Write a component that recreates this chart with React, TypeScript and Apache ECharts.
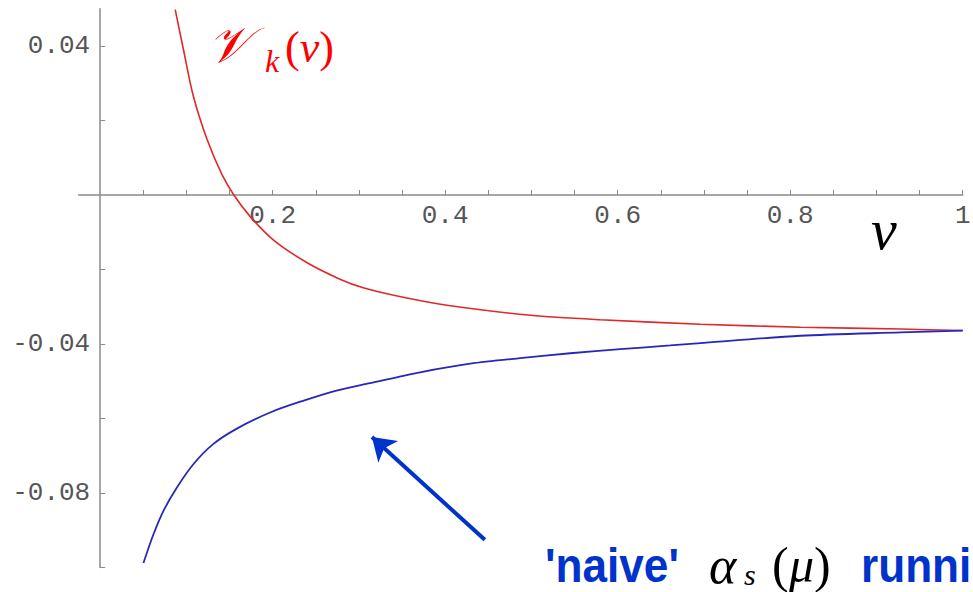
import React, { useEffect, useRef } from "react";
import * as echarts from "echarts";

// nu values and potential values
const redNu = [0.087, 0.0966, 0.108, 0.124, 0.141, 0.155, 0.174, 0.201, 0.24, 0.278, 0.305, 0.35, 0.402, 0.499, 0.58, 0.696, 0.812, 0.928, 1.0];
const redV = [0.0498, 0.039, 0.0266, 0.0149, 0.0056, 0, -0.0058, -0.0121, -0.0182, -0.0226, -0.0249, -0.0274, -0.0296, -0.0323, -0.0335, -0.0347, -0.0355, -0.036, -0.0364];

const blueNu = [0.0502, 0.0618, 0.0734, 0.0888, 0.108, 0.131, 0.158, 0.197, 0.236, 0.274, 0.313, 0.371, 0.429, 0.487, 0.545, 0.603, 0.661, 0.7, 0.812, 0.928, 1.0];
const blueV = [-0.0988, -0.0911, -0.0848, -0.0786, -0.0723, -0.0669, -0.0628, -0.0584, -0.0552, -0.0525, -0.0505, -0.0476, -0.0453, -0.0438, -0.0425, -0.0414, -0.0404, -0.0397, -0.0378, -0.0369, -0.0364];

const xTickValues = [0.05, 0.1, 0.15, 0.2, 0.25, 0.3, 0.35, 0.4, 0.45, 0.5, 0.55, 0.6, 0.65, 0.7, 0.75, 0.8, 0.85, 0.9, 0.95, 1];
const xLabelValues = [0.2, 0.4, 0.6, 0.8, 1];
const yTickValues = [0.04, 0.02, -0.02, -0.04, -0.06, -0.08, -0.1];
const yLabelValues = [0.04, -0.04, -0.08];

const arrowFrom = [0.446, -0.0926];
const arrowTo = [0.3151, -0.065];

const MONO = "'Liberation Mono', 'DejaVu Sans Mono', monospace";
const SERIF = "'Liberation Serif', 'DejaVu Serif', serif";
const SANS = "'Liberation Sans', Arial, sans-serif";

function txt(text: string, x: number, y: number, font: string, fill: string, scaleX = 1) {
  return {
    type: "text",
    x,
    y,
    scaleX,
    silent: true,
    style: {
      text,
      font,
      fill,
      textAlign: "left",
      textVerticalAlign: "middle",
      align: "left",
      verticalAlign: "middle",
    },
  };
}

export default function App() {
  const ref = useRef<HTMLDivElement>(null);
  useEffect(() => {
    const chart = echarts.init(ref.current!, null, { renderer: "svg" });
    chart.setOption({
      animation: false,
      backgroundColor: "#ffffff",
      grid: {
        left: 78.6,
        right: 10.3,
        top: 8.8,
        bottom: 24.6,
        containLabel: false,
        outerBoundsMode: "none",
      },
      xAxis: {
        type: "value",
        min: -0.025,
        max: 1,
        position: "bottom",
        offset: -372.4,
        axisLine: { show: true, onZero: false, lineStyle: { color: "#8a8a8a", width: 1.5 } },
        axisTick: {
          show: true,
          inside: true,
          length: 5,
          customValues: xTickValues,
          lineStyle: { color: "#8a8a8a", width: 1 },
        },
        axisLabel: {
          show: true,
          customValues: xLabelValues,
          margin: 8,
          color: "#555555",
          fontFamily: MONO,
          fontSize: 26,
          formatter: (v: number) => String(v),
        },
        splitLine: { show: false },
      },
      yAxis: {
        type: "value",
        min: -0.1,
        max: 0.05,
        position: "left",
        offset: -21.6,
        axisLine: { show: true, onZero: false, lineStyle: { color: "#8a8a8a", width: 1.5 } },
        axisTick: {
          show: true,
          inside: true,
          length: 5,
          customValues: yTickValues,
          lineStyle: { color: "#8a8a8a", width: 1 },
        },
        axisLabel: {
          show: true,
          customValues: yLabelValues,
          margin: 10,
          color: "#555555",
          fontFamily: MONO,
          fontSize: 26,
          formatter: (v: number) => v.toFixed(2),
        },
        splitLine: { show: false },
      },
      series: [
        {
          name: "V_k(nu)",
          type: "line",
          data: redNu.map((x, i) => [x, redV[i]]),
          smooth: 0.3,
          showSymbol: false,
          silent: true,
          lineStyle: { color: "#e02828", width: 1.6 },
        },
        {
          name: "naive running",
          type: "line",
          data: blueNu.map((x, i) => [x, blueV[i]]),
          smooth: 0.3,
          showSymbol: false,
          silent: true,
          lineStyle: { color: "#2828b8", width: 1.8 },
          markLine: {
            silent: true,
            symbol: ["none", "arrow"],
            symbolSize: 22,
            label: { show: false },
            lineStyle: { color: "#0033cc", width: 4, type: "solid" },
            data: [[{ coord: arrowFrom }, { coord: arrowTo }]],
          },
        },
      ],
      graphic: [
        txt("\u{1D4B1}", 208, 45, `italic 50px ${SERIF}`, "#ff0000"),
        txt("k", 265, 61, `italic 32px ${SERIF}`, "#ff0000"),
        {
          type: "text",
          x: 285,
          y: 47,
          silent: true,
          style: {
            text: "{r|(}{i|ν}{r|)}",
            textAlign: "left",
            textVerticalAlign: "middle",
            align: "left",
            verticalAlign: "middle",
            rich: {
              r: { font: `44px ${SERIF}`, fill: "#ff0000", color: "#ff0000" },
              i: { font: `italic 44px ${SERIF}`, fill: "#ff0000", color: "#ff0000" },
            },
          },
        },
        txt("ν", 871, 229, `italic 58px ${SERIF}`, "#000000"),
        txt("'naive'", 545, 565, `bold 48px ${SANS}`, "#0033cc", 0.92),
        txt("α", 709, 565, `italic 52px ${SERIF}`, "#000000"),
        txt("s", 744, 574, `italic 30px ${SERIF}`, "#000000"),
        txt("(", 772, 565, `50px ${SERIF}`, "#000000"),
        txt("μ", 789, 565, `italic 50px ${SERIF}`, "#000000"),
        txt(")", 814, 565, `50px ${SERIF}`, "#000000"),
        txt("runni", 861, 565, `bold 48px ${SANS}`, "#0033cc", 0.92),
      ],
    });
    return () => chart.dispose();
  }, []);
  return (
    <div
      ref={ref}
      style={{ position: "fixed", left: 0, top: 0, width: 973, height: 592, background: "#fff" }}
    />
  );
}
